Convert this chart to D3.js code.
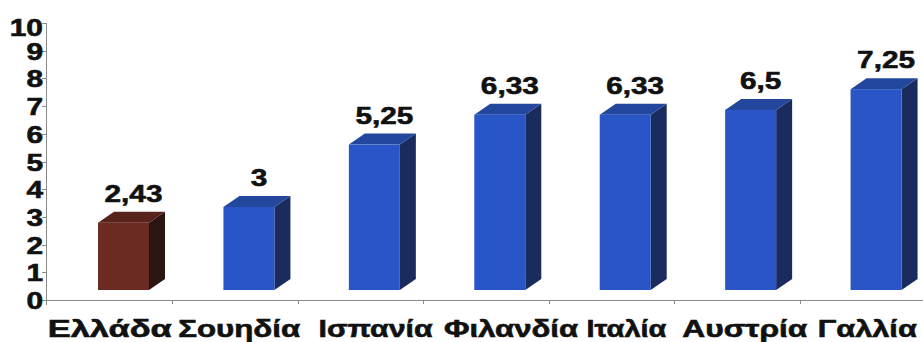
<!DOCTYPE html>
<html>
<head>
<meta charset="utf-8">
<script src="https://cdn.jsdelivr.net/npm/d3@7"></script>
<style>
  html, body { margin: 0; padding: 0; background: #fff; }
  svg { display: block; }
  text {
    font-family: "Liberation Sans", Arial, sans-serif; font-weight: bold;
    fill: #111; stroke: #111; stroke-width: 0.6px; paint-order: stroke;
  }
</style>
</head>
<body>
<svg id="chart" width="923" height="342"></svg>
<script>
// Categories and values
const categories = ["Ελλάδα", "Σουηδία", "Ισπανία", "Φιλανδία", "Ιταλία", "Αυστρία", "Γαλλία"];
const values = [2.43, 3, 5.25, 6.33, 6.33, 6.5, 7.25];
const highlighted = ["Ελλάδα"];
const yTicks = [0, 1, 2, 3, 4, 5, 6, 7, 8, 9, 10];

// Layout
const W = 923, H = 342;
const axisY = 300, axisX = 46;
const barW = 51, depthX = 16, depthY = 11, floorLift = 10;
// Category labels are set wide and packed; horizontal shift and set width of each
const labelShift = [0, 4, 15, 25, 15, 8, 5];
const labelWidth = [124, 122, 114, 134, 80, 125, 99];

const palette = {
  normal: { front: "#2a55c6", top: "#24479e", side: "#1a2b5e" },
  accent: { front: "#6c2b22", top: "#58231a", side: "#2b1510" }
};

const greek = d3.formatLocale({ decimal: ",", thousands: ".", grouping: [3], currency: ["", "€"] });
const fmt = greek.format("~g");

const svg = d3.select("#chart");

const x = d3.scaleBand().domain(categories).range([47, 925]).paddingInner(0).paddingOuter(0);
const y = d3.scaleLinear().domain([0, 10]).range([axisY, 23]);
const yBar = v => y(v) - floorLift;

// Axes
const axisColor = "#8a8a8a";
svg.append("line")
  .attr("x1", axisX).attr("x2", W).attr("y1", axisY + 0.5).attr("y2", axisY + 0.5)
  .attr("stroke", axisColor).attr("stroke-width", 1);
svg.append("line")
  .attr("x1", axisX + 0.5).attr("x2", axisX + 0.5).attr("y1", y(10)).attr("y2", axisY + 5)
  .attr("stroke", axisColor).attr("stroke-width", 1);

// Y ticks and labels
const yg = svg.append("g");
yg.selectAll("line").data(yTicks).join("line")
  .attr("x1", axisX - 4).attr("x2", axisX)
  .attr("y1", d => Math.round(y(d)) + 0.5).attr("y2", d => Math.round(y(d)) + 0.5)
  .attr("stroke", axisColor);
yg.selectAll("text").data(yTicks).join("text")
  .attr("transform", d => `translate(${axisX - 3},${y(d) + (d === 10 ? 13 : 9)}) scale(1.3,1)`)
  .attr("text-anchor", "end")
  .attr("font-size", 23)
  .text(d => d);

// Category boundary ticks
const bounds = categories.map(c => x(c) + x.bandwidth()).slice(0, -1);
svg.append("g").selectAll("line").data(bounds).join("line")
  .attr("x1", d => Math.round(d) + 0.5).attr("x2", d => Math.round(d) + 0.5)
  .attr("y1", axisY).attr("y2", axisY + 4)
  .attr("stroke", axisColor);

// 3D bars: side, top and front faces
const bars = svg.append("g").selectAll("g")
  .data(categories.map((c, i) => ({ c, v: values[i] })))
  .join("g");

bars.each(function (d) {
  const g = d3.select(this);
  const col = highlighted.includes(d.c) ? palette.accent : palette.normal;
  const x0 = x(d.c) + 51, x1 = x0 + barW;
  const yt = yBar(d.v), yb = yBar(0);
  g.append("path")
    .attr("d", `M${x1},${yt}L${x1 + depthX},${yt - depthY}L${x1 + depthX},${yb - depthY}L${x1},${yb}Z`)
    .attr("fill", col.side);
  g.append("path")
    .attr("d", `M${x0},${yt}L${x0 + depthX},${yt - depthY}L${x1 + depthX},${yt - depthY}L${x1},${yt}Z`)
    .attr("fill", col.top);
  g.append("rect")
    .attr("x", x0).attr("y", yt).attr("width", barW).attr("height", yb - yt)
    .attr("fill", col.front);
  g.append("text")
    .attr("transform", `translate(${x0 + (barW + depthX) / 2 + 2},${yt - depthY - 10}) scale(1.24,1)`)
    .attr("text-anchor", "middle")
    .attr("font-size", 24)
    .text(fmt(d.v));
});

// Category labels
svg.append("g").selectAll("text").data(categories).join("text")
  .attr("x", (d, i) => x(d) + x.bandwidth() / 2 + labelShift[i] - labelWidth[i] / 2)
  .attr("y", 337)
  .attr("textLength", (d, i) => labelWidth[i])
  .attr("lengthAdjust", "spacingAndGlyphs")
  .attr("font-size", 24)
  .text(d => d);
</script>
</body>
</html>
